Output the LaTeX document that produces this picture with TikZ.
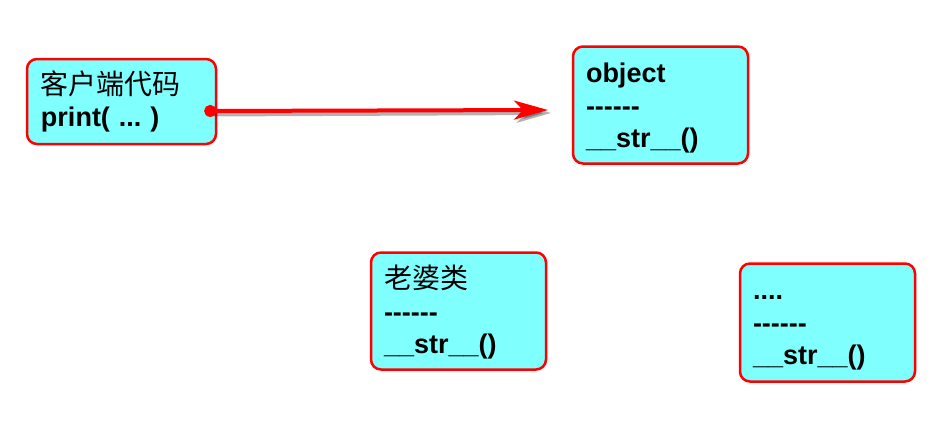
\documentclass[tikz,border=0pt]{standalone}
\usepackage{fontspec}
\setmainfont[Ligatures=TeXOff]{Liberation Sans}
\newfontfamily\cjk{Noto Sans CJK SC}
\usepackage{tikz}
\usetikzlibrary{arrows.meta,positioning}
\definecolor{boxfill}{HTML}{80FFFF}
\definecolor{boxline}{HTML}{FF0000}
\frenchspacing
\tikzset{classbox/.style={draw=boxline, fill=boxfill, line width=2.5pt,
           rounded corners=10pt, align=left, inner xsep=13pt, inner ysep=0pt,
           text width=149pt, text height=36pt, text depth=81pt,
           font=\fontsize{27}{32.5}\selectfont\bfseries},
         callarrow/.style={draw=boxline, line width=4pt,
           {Circle[length=12pt]}-{Stealth[length=34pt,width=19pt,inset=9pt]}},
         shadowarrow/.style={draw=black, opacity=.3, line width=4pt,
           -{Stealth[length=34pt,width=19pt,inset=9pt]}}}
\newcommand{\cn}[1]{{\mdseries\cjk\fontsize{28}{32.5}\selectfont #1}}

\begin{document}
\begin{tikzpicture}[x=1pt, y=-1pt]

	\useasboundingbox (0,0) rectangle (930,421);

	\node[classbox, text width=161pt, inner xsep=14pt, text height=35pt, text depth=50pt] (client) at (121.5,101.5)
	  {\cn{客户端代码}\\ print( ... )};
	\node[classbox] (object) at (660.5,105)
	  {object\\ ------\\ \_\_str\_\_()};
	\node[classbox] (wife) at (458.5,311)
	  {\cn{老婆类}\\ ------\\ \_\_str\_\_()};
	\node[classbox, text depth=82pt] (other) at (827.5,322.5)
	  {....\\ ------\\ \_\_str\_\_()};

	\coordinate (calltip) at (548,110);
	\draw[shadowarrow] ([shift={(-10pt,-13pt)}]client.east) -- ([shift={(3pt,-3pt)}]calltip);
	\draw[callarrow] ([shift={(-13pt,-9.5pt)}]client.east) -- (calltip);

\end{tikzpicture}
\end{document}
